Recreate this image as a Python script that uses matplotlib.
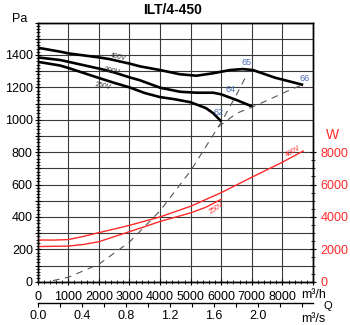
import matplotlib
matplotlib.use("Agg")
import matplotlib.pyplot as plt
from matplotlib.ticker import FixedLocator, FuncFormatter, MultipleLocator

plt.rcParams['font.family'] = ['Liberation Sans', 'DejaVu Sans']

# ---- data ----
q400 = [0, 750, 1000, 2000, 2340, 3040, 3340, 4000, 4650, 5190, 5730, 6290, 6700, 7036, 7755, 8680]
p400 = [1445, 1420, 1410, 1385, 1375, 1345, 1330, 1307, 1281, 1272, 1287, 1307, 1313, 1307, 1260, 1215]

q300 = [0, 730, 1000, 2145, 2500, 3000, 3340, 4000, 4650, 5190, 5740, 6000, 6500, 7036]
p300 = [1385, 1369, 1358, 1310, 1292, 1262, 1244, 1198, 1173, 1167, 1167, 1157, 1122, 1080]

q250 = [0, 730, 1000, 2000, 2500, 3000, 3500, 4000, 4500, 5000, 5500, 5740, 6010]
p250 = [1358, 1335, 1320, 1258, 1228, 1200, 1165, 1140, 1126, 1108, 1072, 1040, 988]

qw400 = [0, 500, 1000, 1500, 2000, 2500, 3000, 4000, 5000, 6000, 7000, 8000, 8680]
w400 = [2575, 2570, 2600, 2800, 3030, 3250, 3480, 4000, 4660, 5500, 6450, 7380, 8070]

qw250 = [0, 1000, 1500, 2000, 2500, 3000, 3500, 4000, 5000, 5500, 6000]
w250 = [2170, 2200, 2300, 2470, 2780, 3090, 3400, 3720, 4250, 4600, 5090]

qsys1 = [500, 1000, 2000, 3000, 4000, 5000, 6000, 6500, 6830]
psys1 = [7, 27, 108, 245, 438, 685, 985, 1155, 1276]

qsys2 = [5900, 6503, 7046, 7647, 8245, 8680]
psys2 = [955, 1040, 1081, 1132, 1184, 1218]

blade_labels = ["62", "64", "65", "66"]
blade_q = [5925, 6317, 6830, 8735]
blade_p = [1042, 1184, 1355, 1252]

x_ticks = [0, 1000, 2000, 3000, 4000, 5000, 6000, 7000, 8000]
w_ticks = [0, 2000, 4000, 6000, 8000]
s_ticks = [0.0, 0.4, 0.8, 1.2, 1.6, 2.0]

RED = '#ff2a2a'
BLUE = '#4a6cb4'
GRID = '#3a3a3a'

fig = plt.figure(figsize=(3.5, 3.25), dpi=100)
ax = fig.add_axes([37.7/350, 1-281.7/325, (313-37.7)/350, (281.7-22.6)/325])
ax.set_xlim(0, 9000)
ax.set_ylim(0, 1600)

# grid
ax.xaxis.set_major_locator(FixedLocator(x_ticks + [9000]))
ax.xaxis.set_major_formatter(FuncFormatter(lambda v, p: f"{int(v)}" if v < 9000 else ""))
ax.xaxis.set_minor_locator(MultipleLocator(200))
ax.yaxis.set_major_locator(MultipleLocator(100))
ax.yaxis.set_major_formatter(FuncFormatter(lambda v, p: f"{int(v)}" if (int(round(v)) % 200 == 0 and v < 1550) else ""))
ax.yaxis.set_minor_locator(MultipleLocator(20))
ax.grid(True, which='major', color=GRID, lw=0.8)
ax.set_axisbelow(True)

ax.tick_params(axis='both', which='major', labelsize=9, direction='inout', length=5, width=0.8, color='black')
ax.tick_params(axis='both', which='minor', direction='inout', length=2.5, width=0.6)
ax.tick_params(axis='x', pad=4)
ax.tick_params(axis='y', pad=1)
for s in ax.spines.values():
    s.set_linewidth(1.0)
    s.set_color('black')

# fan curves
ax.plot(q400, p400, color='black', lw=1.9, solid_capstyle='butt')
ax.plot(q300, p300, color='black', lw=1.9, solid_capstyle='butt')
ax.plot(q250, p250, color='black', lw=1.9, solid_capstyle='butt')

# system curves
ax.plot(qsys1, psys1, color='#555555', lw=0.8, dashes=(6, 5))
ax.plot(qsys2, psys2, color='#555555', lw=0.8, dashes=(6, 5))

# curve labels
ax.text(2627, 1388, "400V", fontsize=5, color='#333333', rotation=-12, ha='center', va='center')
ax.text(2431, 1301, "300V", fontsize=5, color='#333333', rotation=-12, ha='center', va='center')
ax.text(2134, 1210, "250V", fontsize=5, color='#333333', rotation=-12, ha='center', va='center')

for lab, qq, pp in zip(blade_labels, blade_q, blade_p):
    ax.text(qq, pp, lab, fontsize=6.5, color=BLUE, ha='center', va='center')

# power axis
ax2 = ax.twinx()
ax2.set_ylim(0, 16000)
ax2.yaxis.set_major_locator(FixedLocator(w_ticks))
ax2.yaxis.set_minor_locator(FixedLocator([v for v in range(0, 8001, 500)]))
ax2.tick_params(axis='y', which='major', labelsize=9, labelcolor=RED, direction='inout', length=5, width=0.8, pad=3)
ax2.tick_params(axis='y', which='minor', direction='inout', length=2.5, width=0.6)
for s in ax2.spines.values():
    s.set_linewidth(1.0)
ax2.plot(qw400, w400, color=RED, lw=1.0)
ax2.plot(qw250, w250, color=RED, lw=1.0)
ax2.text(8343, 8050, "400V", fontsize=5, color=RED, rotation=30, ha='center', va='center')
ax2.text(5860, 4550, "250V", fontsize=5, color=RED, rotation=33, ha='center', va='center')

# secondary m3/s axis
sec = ax.secondary_xaxis(-21.6/259.1, functions=(lambda q: q/3600.0, lambda s: s*3600.0))
sec.xaxis.set_major_locator(FixedLocator(s_ticks))
sec.xaxis.set_major_formatter(FuncFormatter(lambda v, p: f"{v:.1f}"))
sec.xaxis.set_minor_locator(FixedLocator([0.2, 0.6, 1.0, 1.4, 1.8, 2.2, 2.4]))
sec.tick_params(axis='x', which='major', labelsize=9, direction='out', length=3, width=0.8, pad=2)
sec.tick_params(axis='x', which='minor', direction='out', length=3, width=0.8)
sec.spines['bottom'].set_linewidth(1.0)

# titles / units
fig.text(0.493, 0.969, "ILT/4-450", fontsize=10, fontweight='bold', ha='center', va='center')
fig.text(20/350, 1-19/325, "Pa", fontsize=9, ha='center', va='center')
fig.text(333/350, 1-135/325, "W", fontsize=10, color=RED, ha='center', va='center')
fig.text(313.5/350, 1-295/325, "m³/h", fontsize=9, ha='center', va='center')
fig.text(328/350, 1-306/325, "Q", fontsize=8, ha='center', va='center')
fig.text(313.5/350, 1-318.5/325, "m³/s", fontsize=9, ha='center', va='center')

fig.savefig("out.png", dpi=100)
